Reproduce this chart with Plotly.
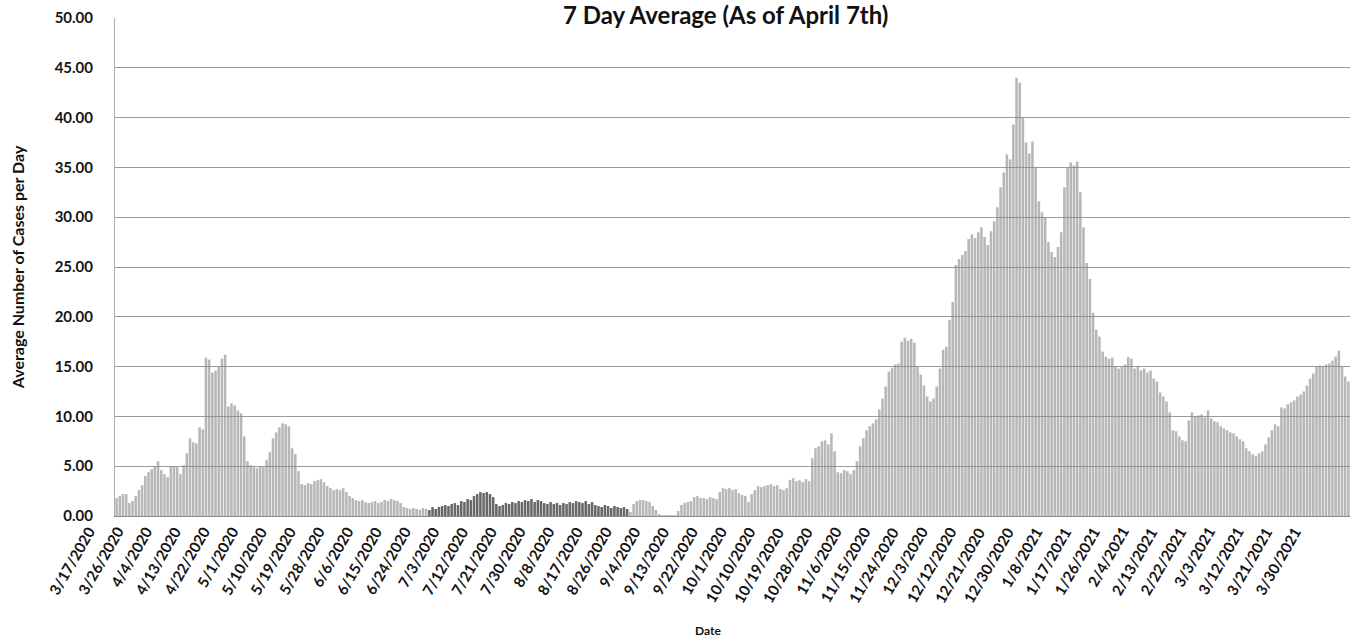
import pandas as pd
import plotly.graph_objects as go

# 7-day average of cases per day (one value per day, 3/17/2020 - 4/7/2021)
mar_2020 = [1.8, 2.0, 2.2, 2.2, 1.3, 1.5, 2.0, 2.6, 3.1, 4.0, 4.4, 4.7, 5.0, 5.5, 4.6]
apr_2020 = [4.2, 3.9, 5.0, 5.0, 4.9, 4.2, 5.1, 6.3, 7.8, 7.4, 7.3, 8.9, 8.7, 15.9, 15.7,
            14.4, 14.6, 15.0, 15.8, 16.2, 11.0, 11.3, 11.1, 10.6, 10.3, 8.0, 5.5, 5.1, 4.9, 4.8]
may_2020 = [5.0, 4.9, 5.6, 6.4, 7.8, 8.4, 8.9, 9.3, 9.2, 9.0, 6.8, 6.2, 4.5, 3.2, 3.1,
            3.3, 3.2, 3.5, 3.6, 3.7, 3.4, 3.0, 2.8, 2.6, 2.7, 2.6, 2.8, 2.4, 2.0, 1.8, 1.6]
jun_2020 = [1.5, 1.6, 1.4, 1.3, 1.4, 1.5, 1.3, 1.4, 1.6, 1.5, 1.7, 1.6, 1.5, 1.3, 0.9,
            0.8, 0.7, 0.8, 0.7, 0.6, 0.8, 0.7, 0.6, 0.9, 0.7, 0.9, 1.0, 1.1, 1.0, 1.2]
jul_2020 = [1.3, 1.1, 1.5, 1.4, 1.7, 1.6, 2.0, 2.2, 2.4, 2.3, 2.4, 2.2, 1.9, 1.2, 1.0,
            1.1, 1.3, 1.2, 1.4, 1.3, 1.5, 1.4, 1.6, 1.5, 1.7, 1.4, 1.6, 1.5, 1.3, 1.2, 1.4]
aug_2020 = [1.2, 1.3, 1.1, 1.3, 1.2, 1.4, 1.3, 1.5, 1.4, 1.3, 1.5, 1.2, 1.4, 1.1, 1.0,
            0.9, 1.1, 1.0, 0.8, 1.0, 0.9, 0.8, 0.9, 0.7, 0.4, 1.2, 1.5, 1.6, 1.6, 1.5, 1.4]
sep_2020 = [1.0, 0.6, 0.2, 0.1, 0.1, 0.1, 0.1, 0.1, 0.5, 1.1, 1.3, 1.4, 1.5, 1.9, 2.0,
            1.8, 1.8, 1.7, 1.9, 1.8, 1.7, 2.4, 2.8, 2.7, 2.8, 2.6, 2.7, 2.3, 2.1, 2.0]
oct_2020 = [1.4, 2.2, 2.6, 3.0, 2.9, 3.0, 3.1, 3.2, 3.0, 3.1, 2.7, 2.6, 2.8, 3.6, 3.8,
            3.5, 3.6, 3.4, 3.7, 3.5, 5.8, 6.8, 7.0, 7.5, 7.6, 7.2, 8.3, 6.5, 4.4, 4.3, 4.6]
nov_2020 = [4.5, 4.2, 4.6, 5.5, 7.0, 7.8, 8.6, 9.0, 9.3, 9.7, 10.7, 11.8, 13.0, 14.5, 14.9,
            15.2, 15.3, 17.5, 17.9, 17.6, 17.8, 17.4, 15.0, 14.2, 13.1, 12.0, 11.5, 11.8, 13.0, 14.8]
dec_2020 = [16.7, 17.0, 19.7, 21.5, 25.2, 25.8, 26.2, 26.6, 27.8, 28.3, 27.9, 28.5, 29.0, 28.0, 27.2,
            28.6, 29.6, 31.0, 33.0, 34.5, 36.3, 35.8, 39.3, 44.0, 43.5, 40.0, 37.5, 36.4, 37.6, 35.0, 31.6]
jan_2021 = [30.5, 30.0, 27.5, 26.5, 26.0, 27.0, 28.5, 33.0, 35.0, 35.5, 35.2, 35.6, 32.5, 29.0, 25.4,
            23.8, 20.4, 18.7, 18.0, 16.5, 16.0, 15.8, 15.9, 15.0, 14.8, 15.0, 15.2, 16.0, 15.8, 14.8, 15.0]
feb_2021 = [14.6, 14.8, 14.4, 14.6, 13.8, 13.5, 12.4, 12.0, 11.5, 10.4, 8.6, 8.5, 8.0, 7.6,
            7.5, 9.6, 10.4, 10.0, 10.1, 10.2, 9.9, 10.6, 9.8, 9.5, 9.4, 9.0, 8.8, 8.6]
mar_2021 = [8.4, 8.3, 8.0, 7.7, 7.5, 6.8, 6.5, 6.2, 6.0, 6.3, 6.5, 7.2, 7.9, 8.6, 9.2,
            9.0, 10.9, 10.8, 11.2, 11.4, 11.6, 12.0, 12.2, 12.5, 13.1, 13.8, 14.3, 15.0, 15.1, 15.0, 15.2]
apr_2021 = [15.3, 15.6, 16.0, 16.6, 15.0, 14.0, 13.5]

tick_labels = ["3/17/2020", "3/26/2020", "4/4/2020", "4/13/2020", "4/22/2020", "5/1/2020",
               "5/10/2020", "5/19/2020", "5/28/2020", "6/6/2020", "6/15/2020", "6/24/2020",
               "7/3/2020", "7/12/2020", "7/21/2020", "7/30/2020", "8/8/2020", "8/17/2020",
               "8/26/2020", "9/4/2020", "9/13/2020", "9/22/2020", "10/1/2020", "10/10/2020",
               "10/19/2020", "10/28/2020", "11/6/2020", "11/15/2020", "11/24/2020", "12/3/2020",
               "12/12/2020", "12/21/2020", "12/30/2020", "1/8/2021", "1/17/2021", "1/26/2021",
               "2/4/2021", "2/13/2021", "2/22/2021", "3/3/2021", "3/12/2021", "3/21/2021",
               "3/30/2021"]

values = (mar_2020 + apr_2020 + may_2020 + jun_2020 + jul_2020 + aug_2020 + sep_2020 +
          oct_2020 + nov_2020 + dec_2020 + jan_2021 + feb_2021 + mar_2021 + apr_2021)
dates = pd.date_range("2020-03-17", periods=len(values), freq="D")
cats = [f"{d.month}/{d.day}/{d.year}" for d in dates]

# bar shading (scan appearance: darker bars in the summer stretch)
colors = []
for d in dates:
    if pd.Timestamp("2020-06-23") <= d <= pd.Timestamp("2020-08-24"):
        colors.append("rgba(60,60,60,0.78)")
    else:
        colors.append("rgba(135,135,135,0.6)")

FONT = "Lato"
TXT = "#141414"

fig = go.Figure(go.Bar(x=cats, y=values, marker=dict(color=colors, line=dict(width=0))))

fig.update_layout(
    width=1356, height=641,
    margin=dict(l=115, r=6, t=18, b=125),
    paper_bgcolor="white", plot_bgcolor="white",
    bargap=0.2, showlegend=False,
    font=dict(family=FONT, color=TXT),
)
fig.update_xaxes(
    type="category", categoryorder="array", categoryarray=cats,
    showticklabels=False, showgrid=False, showline=True, linecolor="#8a8a8a", linewidth=1,
    ticks="", range=[-0.5, len(values) - 0.5], automargin=False,
)
fig.update_yaxes(
    range=[0, 50], dtick=5, tickformat=".2f",
    tickfont=dict(family=FONT, size=15, weight="bold", color=TXT),
    showgrid=True, gridcolor="#9c9c9c", gridwidth=1, zeroline=False,
    showline=True, linecolor="#b0b0b0", linewidth=1, ticks="", ticklabelstandoff=18,
    automargin=False,
)

# rotated date labels, anchored slightly left of their bars as in the original
for lab in tick_labels:
    fig.add_annotation(text=lab, x=lab, xref="x", y=0, yref="paper",
                       xanchor="right", yanchor="top", textangle=-60,
                       xshift=-16, yshift=-5, showarrow=False,
                       font=dict(family=FONT, size=15, weight="bold", color=TXT))

fig.add_annotation(text="7 Day Average (As of April 7th)", xref="paper", yref="paper",
                   x=0.4947, y=1.0, yanchor="bottom", yshift=-13, showarrow=False,
                   font=dict(family=FONT, size=24, weight="bold", color="#111"))
fig.add_annotation(text="Average Number of Cases per Day", xref="paper", yref="paper",
                   x=-0.0885, y=0.5, textangle=-90, showarrow=False,
                   font=dict(family=FONT, size=16, weight="bold", color="#111"))
fig.add_annotation(text="Date", xref="paper", yref="paper",
                   x=0.480, y=-0.248, showarrow=False,
                   font=dict(family=FONT, size=12, weight="bold", color="#111"))

fig.write_html("out.html", config={"displayModeBar": False},
               post_script="document.body.style.margin='0';")
